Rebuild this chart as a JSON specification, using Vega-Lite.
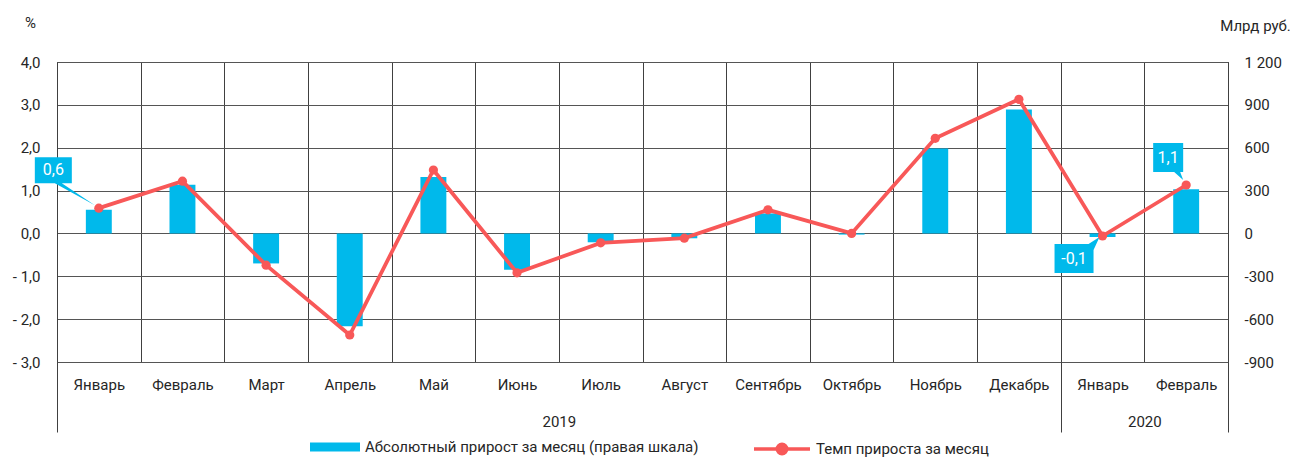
{
  "$schema": "https://vega.github.io/schema/vega-lite/v6.json",
  "width": 1171,
  "height": 300,
  "autosize": "none",
  "padding": {"left": 57, "top": 62, "right": 62, "bottom": 95},
  "background": "white",
  "config": {
    "font": "Roboto",
    "view": {"stroke": "#404040", "strokeWidth": 1},
    "axis": {"labelFont": "Roboto", "labelColor": "#262626", "labelFontSize": 15, "titleFont": "Roboto", "titleFontWeight": "normal", "titleColor": "#262626", "titleFontSize": 15},
    "legend": {"labelFont": "Roboto", "labelFontSize": 15, "labelColor": "#262626", "padding": 0, "title": null, "labelLimit": 0}
  },
  "datasets": {
    "m": [
      {"key": "Январь|2019", "abs": 165, "rate": 0.59, "label": "0,6"},
      {"key": "Февраль|2019", "abs": 340, "rate": 1.22, "label": null},
      {"key": "Март|2019", "abs": -210, "rate": -0.74, "label": null},
      {"key": "Апрель|2019", "abs": -650, "rate": -2.37, "label": null},
      {"key": "Май|2019", "abs": 395, "rate": 1.48, "label": null},
      {"key": "Июнь|2019", "abs": -255, "rate": -0.92, "label": null},
      {"key": "Июль|2019", "abs": -62, "rate": -0.22, "label": null},
      {"key": "Август|2019", "abs": -34, "rate": -0.11, "label": null},
      {"key": "Сентябрь|2019", "abs": 140, "rate": 0.55, "label": null},
      {"key": "Октябрь|2019", "abs": -8, "rate": 0.0, "label": null},
      {"key": "Ноябрь|2019", "abs": 595, "rate": 2.22, "label": null},
      {"key": "Декабрь|2019", "abs": 868, "rate": 3.13, "label": null},
      {"key": "Январь|2020", "abs": -25, "rate": -0.06, "label": "-0,1"},
      {"key": "Февраль|2020", "abs": 310, "rate": 1.13, "label": "1,1"}
    ],
    "years": [
      {"year": "2019", "months": 12},
      {"year": "2020", "months": 2}
    ]
  },
  "layer": [
    {
      "data": {"name": "m"},
      "layer": [
        {
          "mark": {"type": "bar", "width": {"band": 0.31}},
          "encoding": {
            "x": {
              "field": "key", "type": "nominal", "sort": null,
              "scale": {"domain": ["Январь|2019", "Февраль|2019", "Март|2019", "Апрель|2019", "Май|2019", "Июнь|2019", "Июль|2019", "Август|2019", "Сентябрь|2019", "Октябрь|2019", "Ноябрь|2019", "Декабрь|2019", "Январь|2020", "Февраль|2020"], "paddingInner": 0, "paddingOuter": 0},
              "axis": {"title": null, "labelExpr": "datum.extra ? '' : (isString(datum.value) ? split(datum.value, '|')[0] : '')", "labelAngle": 0, "ticks": false, "domain": false, "grid": true, "tickBand": "extent", "gridColor": "#404040", "gridWidth": 1, "labelPadding": 15, "labelFontSize": 15}
            },
            "y": {
              "field": "abs", "type": "quantitative",
              "scale": {"domain": [-900, 1200], "nice": false, "zero": false},
              "axis": {"orient": "right", "values": [-900, -600, -300, 0, 300, 600, 900, 1200], "labelExpr": "datum.value == 1200 ? '1 200' : '' + datum.value", "ticks": false, "domain": true, "domainColor": "#404040", "grid": false, "labelPadding": 16, "title": "Млрд руб.", "titleAngle": 0, "titleAlign": "center", "titleBaseline": "middle", "titleX": 27, "titleY": -37}
            },
            "fill": {
              "datum": "Абсолютный прирост за месяц (правая шкала)",
              "scale": {"range": ["#00B9EB"]},
              "legend": {"orient": "none", "legendX": 253, "legendY": 360, "symbolType": "M-1,-0.18H1V0.18H-1Z", "symbolSize": 2500, "symbolStrokeWidth": 0, "labelOffset": 5, "labelLimit": 0}
            }
          }
        },
        {
          "transform": [{"filter": "datum.key == 'Январь|2019'"}],
          "layer": [
            {
              "mark": {"type": "point", "shape": "M-64,-51H-27V-25H-37L-4,-3L-44,-25H-64Z", "size": 4, "filled": true, "color": "#00B9EB", "opacity": 1, "strokeWidth": 0},
              "encoding": {
                "x": {"field": "key", "type": "nominal"},
                "y": {"field": "rate", "type": "quantitative", "scale": {"domain": [-3, 4], "nice": false, "zero": false}, "axis": null}
              }
            },
            {
              "mark": {"type": "text", "dx": -45.5, "dy": -38, "color": "white", "fontSize": 16, "baseline": "middle", "align": "center"},
              "encoding": {
                "x": {"field": "key", "type": "nominal"},
                "y": {"field": "rate", "type": "quantitative"},
                "text": {"field": "label"}
              }
            }
          ]
        },
        {
          "transform": [{"filter": "datum.key == 'Февраль|2020'"}],
          "layer": [
            {
              "mark": {"type": "point", "shape": "M-33,-42H-3V-13H-6L-3,-5L-12,-13H-33Z", "size": 4, "filled": true, "color": "#00B9EB", "opacity": 1, "strokeWidth": 0},
              "encoding": {
                "x": {"field": "key", "type": "nominal"},
                "y": {"field": "rate", "type": "quantitative", "scale": {"domain": [-3, 4], "nice": false, "zero": false}, "axis": null}
              }
            },
            {
              "mark": {"type": "text", "dx": -18, "dy": -27.5, "color": "white", "fontSize": 16, "baseline": "middle", "align": "center"},
              "encoding": {
                "x": {"field": "key", "type": "nominal"},
                "y": {"field": "rate", "type": "quantitative"},
                "text": {"field": "label"}
              }
            }
          ]
        },
        {
          "transform": [{"filter": "datum.key == 'Январь|2020'"}],
          "layer": [
            {
              "mark": {"type": "point", "shape": "M-48,8H-14L-3,1L-9,14V37H-48Z", "size": 4, "filled": true, "color": "#00B9EB", "opacity": 1, "strokeWidth": 0},
              "encoding": {
                "x": {"field": "key", "type": "nominal"},
                "y": {"field": "rate", "type": "quantitative", "scale": {"domain": [-3, 4], "nice": false, "zero": false}, "axis": null}
              }
            },
            {
              "mark": {"type": "text", "dx": -28.5, "dy": 22.5, "color": "white", "fontSize": 16, "baseline": "middle", "align": "center"},
              "encoding": {
                "x": {"field": "key", "type": "nominal"},
                "y": {"field": "rate", "type": "quantitative"},
                "text": {"field": "label"}
              }
            }
          ]
        },
        {
          "mark": {"type": "line", "strokeWidth": 3.8, "point": {"filled": true, "size": 85}},
          "encoding": {
            "x": {"field": "key", "type": "nominal"},
            "y": {
              "field": "rate", "type": "quantitative",
              "scale": {"domain": [-3, 4], "nice": false, "zero": false},
              "axis": {"orient": "left", "values": [-3, -2, -1, 0, 1, 2, 3, 4], "labelExpr": "(datum.value < 0 ? '- ' : '') + replace(format(abs(datum.value), '.1f'), '.', ',')", "ticks": false, "domain": true, "domainColor": "#404040", "grid": true, "gridColor": "#555555", "gridWidth": 1, "labelPadding": 17, "title": "%", "titleAngle": 0, "titleAlign": "center", "titleBaseline": "middle", "titleX": -27, "titleY": -40}
            },
            "color": {
              "datum": "Темп прироста за месяц",
              "scale": {"range": ["#F85858"]},
              "legend": {"orient": "none", "legendX": 695, "legendY": 357, "symbolType": "M-1,0H1M0.17,0A0.17,0.17,0,1,1,-0.17,0A0.17,0.17,0,1,1,0.17,0", "symbolSize": 3136, "symbolStrokeWidth": 3.5, "labelOffset": 4, "labelLimit": 0, "encode": {"symbols": {"update": {"fill": {"value": "#F85858"}, "stroke": {"value": "#F85858"}, "opacity": {"value": 1}}}}}
            }
          }
        }
      ],
      "resolve": {"scale": {"y": "independent"}}
    },
    {
      "data": {"name": "years"},
      "mark": {"type": "bar", "opacity": 0},
      "encoding": {
        "x": {
          "field": "months", "type": "quantitative", "stack": "zero",
          "scale": {"domain": [0, 14], "nice": false},
          "axis": {"orient": "bottom", "values": [0, 6, 12, 13, 14], "domain": false, "grid": false, "tickSize": 70, "tickColor": "#404040", "tickWidth": 1, "tickOpacity": {"condition": {"test": "datum.value == 6 || datum.value == 13", "value": 0}, "value": 1}, "labelExpr": "datum.value == 6 ? '2019' : datum.value == 13 ? '2020' : ''", "labelBaseline": "middle", "labelPadding": -11, "labelFontSize": 15, "labelFlush": false, "labelOverlap": false, "title": null}
        },
        "detail": {"field": "year"}
      }
    }
  ],
  "resolve": {"scale": {"x": "independent"}}
}
